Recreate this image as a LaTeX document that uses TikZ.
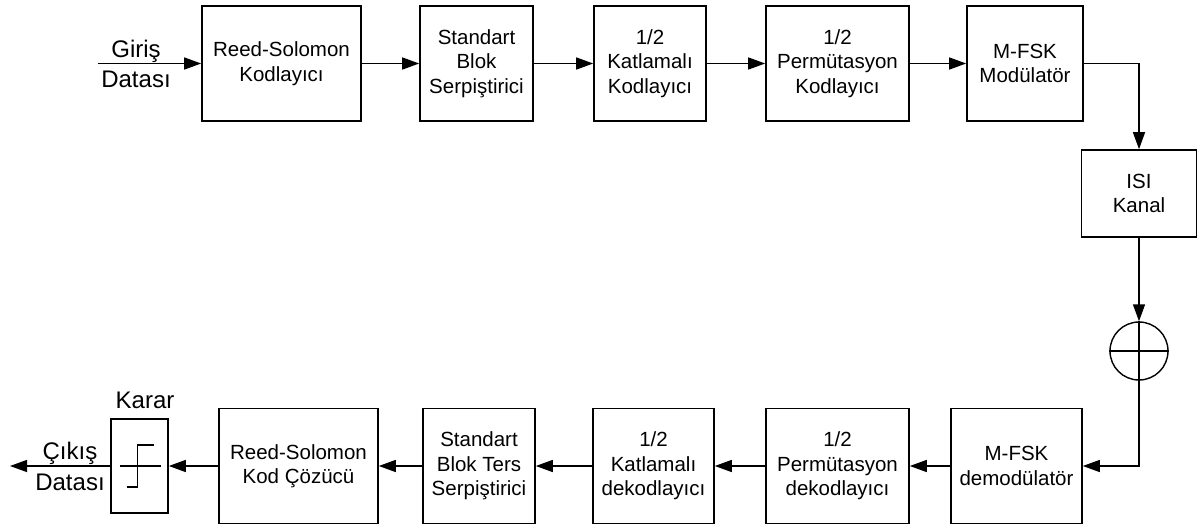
\documentclass[tikz,border=0pt]{standalone}
\usepackage{fontspec}
\setmainfont{Liberation Sans}
\usetikzlibrary{arrows.meta, positioning, calc}

\begin{document}
\begin{tikzpicture}[x=1pt, y=-1pt,
    every node/.style={font=\fontsize{20.5}{24.5}\selectfont, align=center},
    blok/.style={draw, line width=1.6pt, minimum height=115pt, inner sep=0pt},
    etiket/.style={font=\fontsize{24}{28}\selectfont, anchor=base, inner sep=0pt},
    arr/.style={line width=1.4pt, -{Triangle[length=17pt,width=12pt]}},
    hat/.style={line width=1.4pt}]
                \useasboundingbox (0,0) rectangle (1202,525);
                % verici
                \node[blok, minimum width=159pt] (rsk) at (281.5,63.5) {Reed-Solomon\\Kodlayıcı};
                \node[blok, minimum width=113pt] (sbs) at (476.5,63.5) {Standart\\Blok\\Serpiştirici};
                \node[blok, minimum width=112pt] (kk) at (650,63.5) {1/2\\Katlamalı\\Kodlayıcı};
                \node[blok, minimum width=143pt] (pk) at (837.5,63.5) {1/2\\Permütasyon\\Kodlayıcı};
                \node[blok, minimum width=116pt] (mod) at (1025,63.5) {M-FSK\\Modülatör};
                % kanal
                \node[blok, minimum width=115pt, minimum height=87pt] (isi) at (1139,193.5) {ISI\\Kanal};
                \node[draw, circle, line width=1.4pt, minimum size=58pt, inner sep=0pt] (top) at (1139,351) {};
                % alici
                \node[blok, minimum width=131pt] (dem) at (1016.5,466) {M-FSK\\demodülatör};
                \node[blok, minimum width=143pt] (pd) at (837.5,466) {1/2\\Permütasyon\\dekodlayıcı};
                \node[blok, minimum width=121pt] (kd) at (653.5,466) {1/2\\Katlamalı\\dekodlayıcı};
                \node[blok, minimum width=112pt] (sbt) at (479,466) {Standart\\Blok Ters\\Serpiştirici};
                \node[blok, minimum width=159pt] (rsc) at (298.5,466) {Reed-Solomon\\Kod Çözücü};
                \node[blok, minimum width=57pt, minimum height=94pt] (karar) at (139.5,466) {};
                \node[etiket] (kararlbl) at (145,408) {Karar};
                % giris / cikis
                \coordinate (giris) at (98,63.5);
                \coordinate (cikis) at (10,466);
                \node[etiket] (girislbl) at (136,57) {Giriş};
                \node[etiket] (datagir) at (136,87) {Datası};
                \node[etiket] (cikislbl) at (70,459) {Çıkış};
                \node[etiket] (datacik) at (70,490) {Datası};
                % baglantilar
                \draw[arr] (giris) -- (rsk.west);
                \draw[arr] (rsk) -- (sbs);
                \draw[arr] (sbs) -- (kk);
                \draw[arr] (kk) -- (pk);
                \draw[arr] (pk) -- (mod);
                \draw[arr] (mod.east) -| (isi.north);
                \draw[arr] (isi.south) -- (top.north);
                \draw[hat] (top.north) -- (top.south);
                \draw[hat] (top.west) -- (top.east);
                \draw[arr] (top.south) |- (dem.east);
                \draw[arr] (dem) -- (pd);
                \draw[arr] (pd) -- (kd);
                \draw[arr] (kd) -- (sbt);
                \draw[arr] (sbt) -- (rsc);
                \draw[arr] (rsc) -- (karar);
                \draw[arr] (karar.west) -- (cikis);
                % karar simgesi
                \draw[hat] ($(karar.center)+(-20,0)$) -- ($(karar.center)+(21,0)$);
                \draw[hat] ($(karar.center)+(-13,21)$) -- ($(karar.center)+(-2,21)$)
                    -- ($(karar.center)+(-2,-21)$) -- ($(karar.center)+(14,-21)$);
            \end{tikzpicture}
\end{document}
